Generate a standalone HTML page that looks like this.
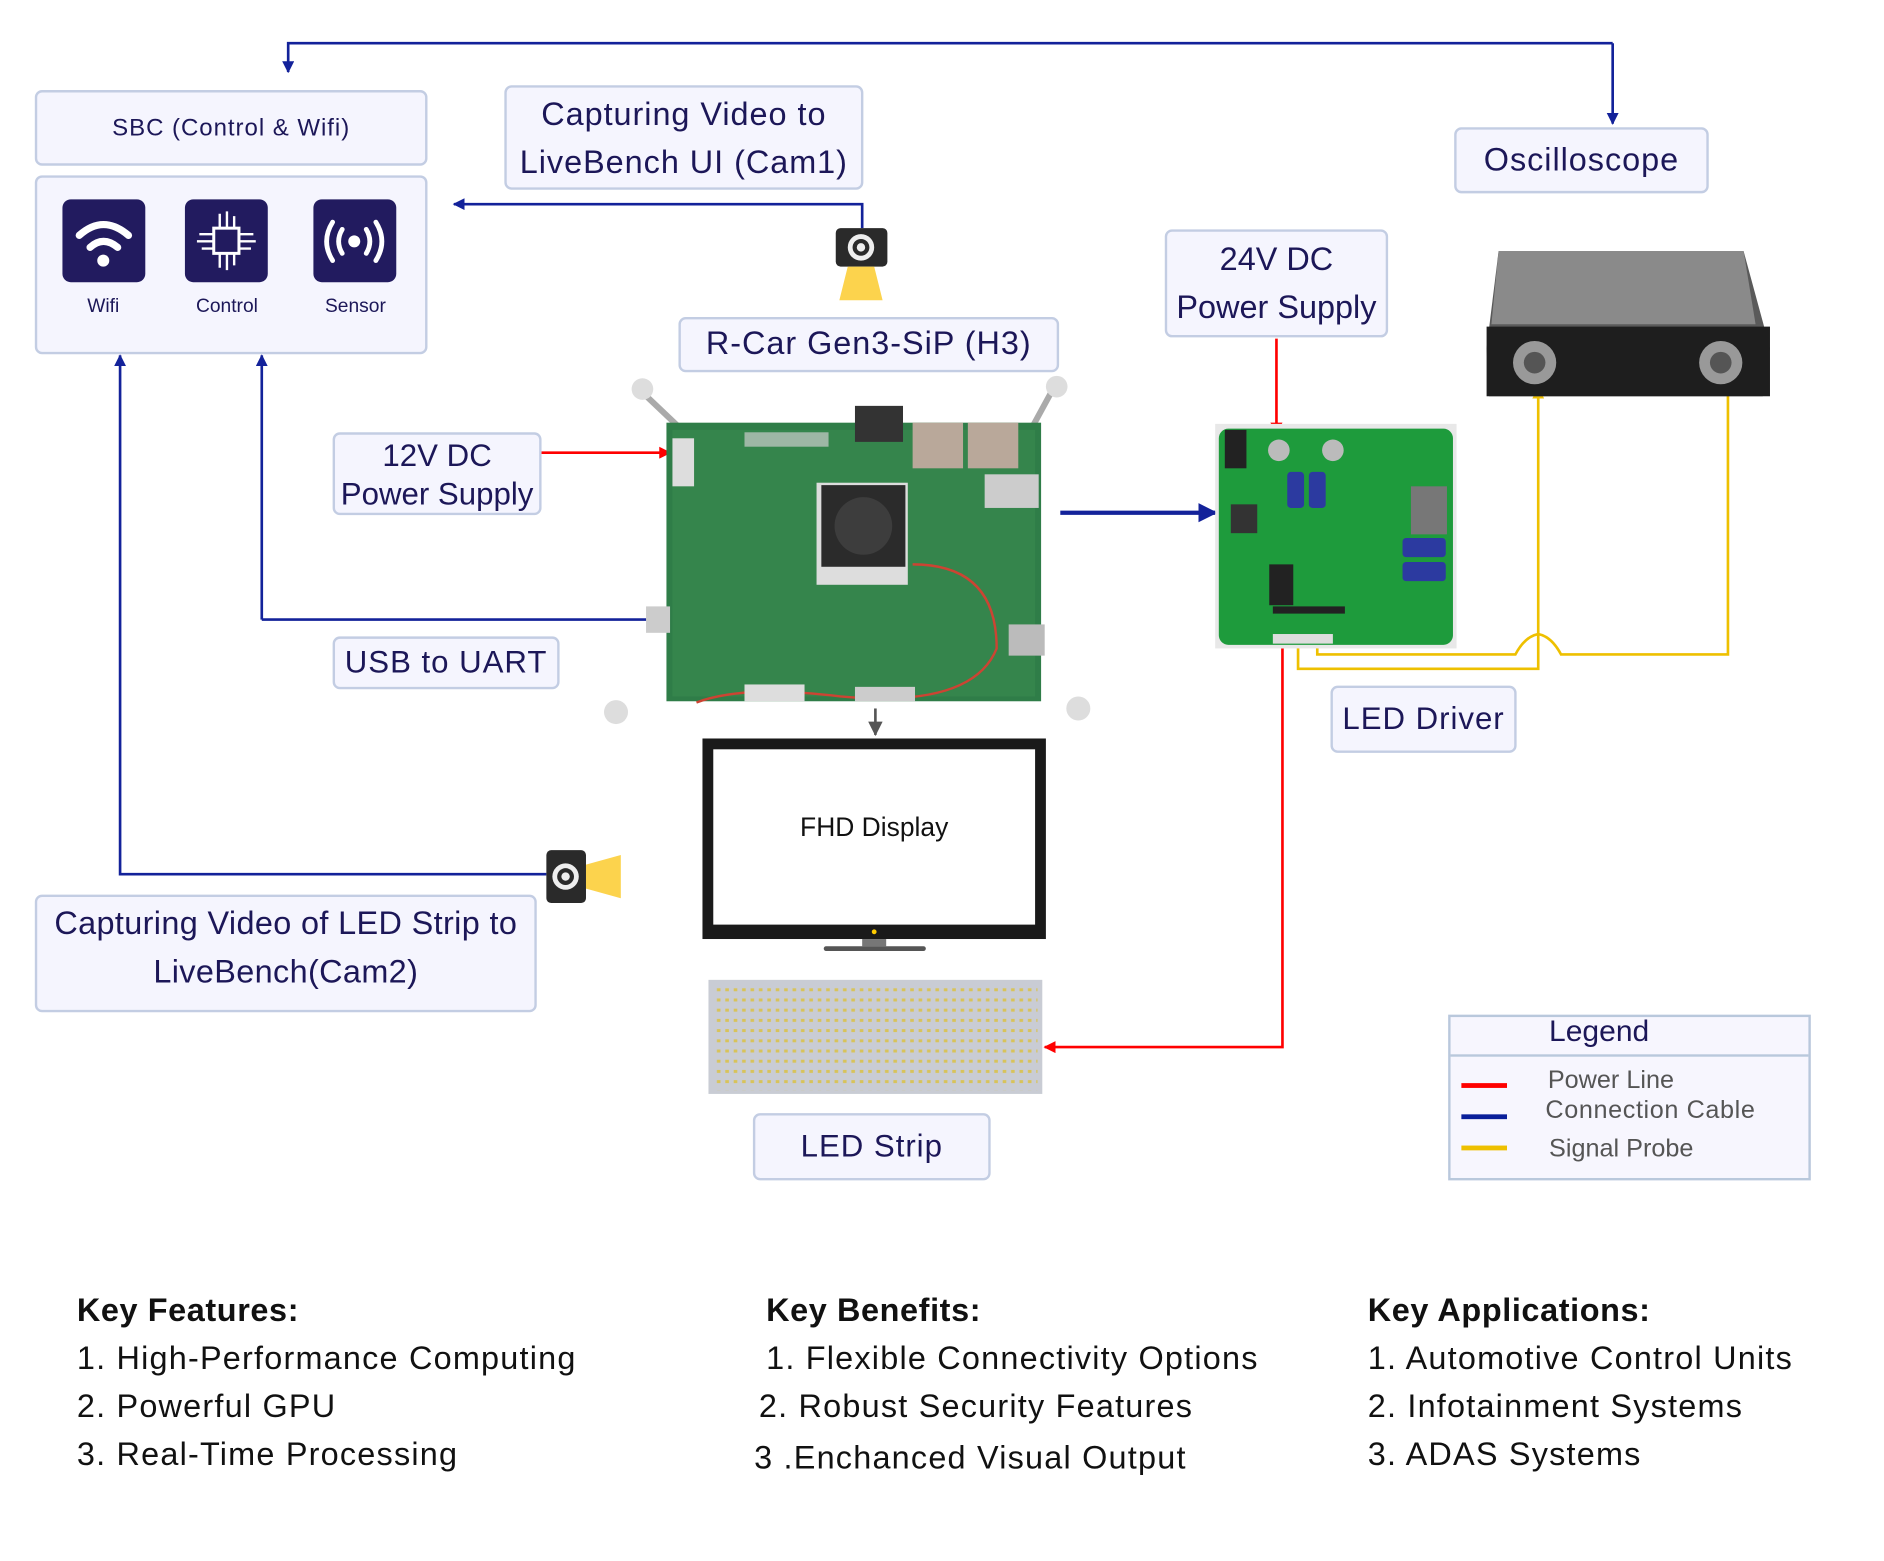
<!DOCTYPE html>
<html><head><meta charset="utf-8"><style>
html,body{margin:0;padding:0;background:#fff;width:1884px;height:1558px;overflow:hidden}
#w{position:absolute;left:0;top:0;width:1570px;height:1300px;transform:scale(1.2008);transform-origin:0 0;font-family:"Liberation Sans",sans-serif}
.b{position:absolute;background:#f5f5fe;border:2px solid #c3cde3;border-radius:6px;box-sizing:border-box;color:#1c1758;text-align:center;display:flex;align-items:center;justify-content:center;line-height:1.3;letter-spacing:0.8px;white-space:nowrap}
.t{position:absolute;white-space:nowrap}
.ic{position:absolute;width:69px;height:69px;background:#221b5f;border-radius:7px}
.lbl{position:absolute;font-size:16px;color:#1c1758;width:100px;text-align:center}
.col{position:absolute;font-size:27px;color:#111;line-height:40px;letter-spacing:1px;white-space:nowrap}
.col b{font-size:27px;letter-spacing:0.5px}
.lg{position:absolute;left:1217px;width:38px;height:4px}
</style></head><body><div id="w">
<svg width="1570" height="1300" style="position:absolute;left:0;top:0">
<defs>
<marker id="ab" markerWidth="10" markerHeight="10" refX="9" refY="5" orient="auto" markerUnits="userSpaceOnUse"><path d="M0,0L10,5L0,10z" fill="#13229a"/></marker>
<marker id="ar" markerWidth="10" markerHeight="10" refX="9" refY="5" orient="auto" markerUnits="userSpaceOnUse"><path d="M0,0L10,5L0,10z" fill="#f00"/></marker>
<marker id="ay" markerWidth="10" markerHeight="10" refX="9" refY="5" orient="auto" markerUnits="userSpaceOnUse"><path d="M0,0L10,5L0,10z" fill="#eec000"/></marker>
<marker id="ab2" markerWidth="16" markerHeight="16" refX="14" refY="8" orient="auto" markerUnits="userSpaceOnUse"><path d="M0,0L16,8L0,16z" fill="#13229a"/></marker>
<marker id="ag" markerWidth="12" markerHeight="12" refX="11" refY="6" orient="auto" markerUnits="userSpaceOnUse"><path d="M0,0L12,6L0,12z" fill="#555"/></marker>
</defs>
<g fill="none" stroke-width="2.2">
<path d="M1343,36 L240,36 L240,60" stroke="#13229a" marker-end="url(#ab)"/>
<path d="M1343,36 L1343,103" stroke="#13229a" marker-end="url(#ab)"/>
<path d="M718,190 L718,170 L378,170" stroke="#13229a" marker-end="url(#ab)"/>
<path d="M218,516 L218,296" stroke="#13229a" marker-end="url(#ab)"/>
<path d="M218,516 L548,516" stroke="#13229a" marker-end="url(#ab)"/>
<path d="M455,728 L100,728 L100,296" stroke="#13229a" marker-end="url(#ab)"/>
<path d="M883,427 L1012,427" stroke="#13229a" stroke-width="3.5" marker-end="url(#ab2)"/>
<path d="M729,590 L729,612" stroke="#555" marker-end="url(#ag)"/>
<path d="M450,377 L558,377" stroke="#f00" marker-end="url(#ar)"/>
<path d="M1063,282 L1063,361" stroke="#f00" marker-end="url(#ar)"/>
<path d="M1068,540 L1068,872 L870,872" stroke="#f00" marker-end="url(#ar)"/>
<path d="M1081,520 L1081,557 L1281,557 L1281,323" stroke="#eec000" marker-end="url(#ay)"/>
<path d="M1097,520 L1097,545 L1262,545 Q1270,530 1281,528 Q1292,530 1300,545 L1439,545 L1439,320" stroke="#eec000" marker-end="url(#ay)"/>
</g>
<rect x="696" y="190" width="43" height="32" rx="4" fill="#2a2a2a"/>
<circle cx="717" cy="206" r="11" fill="#eee"/><circle cx="717" cy="206" r="7" fill="#2a2a2a"/><circle cx="717" cy="206" r="3.5" fill="#eee"/>
<path d="M706,222 L728,222 L735,250 L699,250z" fill="#fcd34d"/>
<rect x="455" y="708" width="33" height="44" rx="4" fill="#2a2a2a"/>
<circle cx="471" cy="730" r="11" fill="#eee"/><circle cx="471" cy="730" r="7" fill="#2a2a2a"/><circle cx="471" cy="730" r="3.5" fill="#eee"/>
<path d="M488,720 L517,712 L517,748 L488,740z" fill="#fcd34d"/>
<line x1="530" y1="322" x2="570" y2="360" stroke="#aaa" stroke-width="5"/>
<line x1="878" y1="322" x2="860" y2="355" stroke="#aaa" stroke-width="5"/>
<circle cx="535" cy="324" r="9" fill="#ddd"/><circle cx="880" cy="322" r="9" fill="#ddd"/>
<circle cx="513" cy="593" r="10" fill="#ddd"/><circle cx="898" cy="590" r="10" fill="#ddd"/>
<rect x="555" y="352" width="312" height="232" fill="#2f7d48"/>
<rect x="560" y="358" width="302" height="222" fill="#3a8a50" opacity=".6"/>
<rect x="712" y="338" width="40" height="30" fill="#333"/>
<rect x="760" y="352" width="42" height="38" fill="#b9a89a"/><rect x="806" y="352" width="42" height="38" fill="#b9a89a"/>
<rect x="820" y="395" width="45" height="28" fill="#ccc"/>
<rect x="680" y="402" width="76" height="85" fill="#ddd"/>
<rect x="684" y="404" width="70" height="68" fill="#2b2b2b"/>
<circle cx="719" cy="438" r="24" fill="#3d3d3d"/>
<rect x="620" y="360" width="70" height="12" fill="#ccc" opacity=".7"/>
<path d="M760,470 Q830,470 830,540 Q810,590 700,580 Q620,570 580,585" fill="none" stroke="#c43" stroke-width="2"/>
<rect x="560" y="365" width="18" height="40" fill="#ddd"/>
<rect x="538" y="505" width="20" height="22" fill="#ccc"/>
<rect x="840" y="520" width="30" height="26" fill="#bbb"/>
<rect x="620" y="570" width="50" height="14" fill="#ddd"/><rect x="712" y="572" width="50" height="12" fill="#ccc"/>
<rect x="1012" y="353" width="201" height="187" fill="#e8e8e8"/>
<rect x="1015" y="357" width="195" height="180" rx="8" fill="#1e9b3c"/>
<rect x="1020" y="358" width="18" height="32" fill="#222"/>
<circle cx="1065" cy="375" r="9" fill="#bbb"/><circle cx="1110" cy="375" r="9" fill="#bbb"/>
<rect x="1072" y="393" width="14" height="30" rx="3" fill="#2c3aa0"/><rect x="1090" y="393" width="14" height="30" rx="3" fill="#2c3aa0"/>
<rect x="1175" y="405" width="30" height="40" fill="#777"/>
<rect x="1168" y="448" width="36" height="16" rx="3" fill="#2c3aa0"/><rect x="1168" y="468" width="36" height="16" rx="3" fill="#2c3aa0"/>
<rect x="1025" y="420" width="22" height="24" fill="#333"/>
<rect x="1057" y="470" width="20" height="34" fill="#222"/>
<rect x="1060" y="505" width="60" height="6" fill="#222"/>
<rect x="1060" y="528" width="50" height="8" fill="#ddd"/>
<path d="M1248,209 L1452,209 L1474,290 L1468,330 L1240,330 L1238,290z" fill="#5a5a5a"/>
<path d="M1248,209 L1452,209 L1462,270 L1242,270z" fill="#8a8a8a"/>
<rect x="1238" y="272" width="236" height="58" fill="#1e1e1e"/>
<circle cx="1278" cy="302" r="18" fill="#999"/><circle cx="1278" cy="302" r="9" fill="#555"/>
<circle cx="1433" cy="302" r="18" fill="#999"/><circle cx="1433" cy="302" r="9" fill="#555"/>
<rect x="585" y="615" width="286" height="167" fill="#1a1a1a"/>
<rect x="594" y="624" width="268" height="146" fill="#fff"/>
<circle cx="728" cy="776" r="2" fill="#fc0"/>
<rect x="718" y="782" width="20" height="6" fill="#777"/>
<rect x="686" y="788" width="85" height="4" rx="2" fill="#555"/>
<rect x="590" y="816" width="278" height="95" fill="#c9ccd4"/>
<pattern id="dots" x="596" y="821" width="7" height="8.5" patternUnits="userSpaceOnUse"><rect x="1" y="2" width="3" height="2.5" fill="#d8c35a"/></pattern>
<rect x="594" y="820" width="270" height="88" fill="url(#dots)"/>
</svg>

<div class="b" style="left:29px;top:75px;width:327px;height:63px;font-size:20px">SBC (Control &amp; Wifi)</div>
<div class="b" style="left:29px;top:146px;width:327px;height:149px"></div>
<div class="ic" style="left:52px;top:166px"><svg width="69" height="69"><path d="M14,30 Q34,12 55,30" stroke="#fff" stroke-width="6" fill="none" stroke-linecap="round"/><path d="M23,40 Q34,30 46,40" stroke="#fff" stroke-width="6" fill="none" stroke-linecap="round"/><circle cx="34" cy="51" r="5" fill="#fff"/></svg></div>
<div class="ic" style="left:154px;top:166px"><svg width="69" height="69"><rect x="24" y="24" width="21" height="21" fill="none" stroke="#fff" stroke-width="2.5"/><g stroke="#fff" stroke-width="2"><path d="M29,24V12M35,24V10M41,24V14M29,45V57M35,45V59M41,45V55M24,29H12M24,35H10M24,41H14M45,29H57M45,35H59M45,41H55"/></g></svg></div>
<div class="ic" style="left:261px;top:166px"><svg width="69" height="69"><circle cx="34" cy="35" r="5" fill="#fff"/><g stroke="#fff" stroke-width="4" fill="none" stroke-linecap="round"><path d="M24,25Q18,35 24,45M44,25Q50,35 44,45M16,19Q6,35 16,51M52,19Q62,35 52,51"/></g></svg></div>
<div class="lbl" style="left:36px;top:247px">Wifi</div>
<div class="lbl" style="left:139px;top:247px">Control</div>
<div class="lbl" style="left:246px;top:247px">Sensor</div>

<div class="b" style="left:420px;top:71px;width:299px;height:87px;font-size:27px;line-height:40px">Capturing Video to<br>LiveBench UI (Cam1)</div>
<div class="b" style="left:565px;top:264px;width:317px;height:46px;font-size:27px">R-Car Gen3-SiP (H3)</div>
<div class="b" style="left:277px;top:360px;width:174px;height:69px;font-size:26px;line-height:32px;letter-spacing:0">12V DC<br>Power Supply</div>
<div class="b" style="left:277px;top:530px;width:189px;height:44px;font-size:26px">USB to UART</div>
<div class="b" style="left:29px;top:745px;width:418px;height:98px;font-size:27px;line-height:40px;align-items:flex-start;padding-top:2px;letter-spacing:0.3px">Capturing Video of LED Strip to<br>LiveBench(Cam2)</div>
<div class="b" style="left:970px;top:191px;width:186px;height:90px;font-size:27px;line-height:40px;letter-spacing:0">24V DC<br>Power Supply</div>
<div class="b" style="left:1211px;top:106px;width:212px;height:55px;font-size:27px">Oscilloscope</div>
<div class="b" style="left:1108px;top:571px;width:155px;height:56px;font-size:26px">LED Driver</div>
<div class="b" style="left:627px;top:927px;width:198px;height:56px;font-size:26px">LED Strip</div>
<div class="t" style="left:594px;top:676px;width:268px;text-align:center;font-size:22px;color:#111">FHD Display</div>

<div style="position:absolute;left:1206px;top:845px;width:302px;height:138px;background:#f7f6fe;border:2px solid #b9c8dc;box-sizing:border-box"></div>
<div style="position:absolute;left:1208px;top:878px;width:298px;height:2px;background:#b9c8dc"></div>
<div class="lg" style="top:902px;background:#f00"></div>
<div class="lg" style="top:928px;background:#0a1f9a"></div>
<div class="lg" style="top:954px;background:#eec000"></div>
<div class="t" style="left:1290px;top:845px;font-size:25px;color:#1c1758">Legend</div>
<div class="t" style="left:1289px;top:888px;font-size:21px;color:#555">Power Line</div>
<div class="t" style="left:1287px;top:913px;font-size:21px;color:#555;letter-spacing:0.5px">Connection Cable</div>
<div class="t" style="left:1290px;top:945px;font-size:21px;color:#555">Signal Probe</div>

<div class="col" style="left:64px;top:1071px"><b>Key Features:</b><br>1. High-Performance Computing<br>2. Powerful GPU<br>3. Real-Time Processing</div>
<div class="col" style="left:632px;top:1071px"><b style="margin-left:6px">Key Benefits:</b><br><span style="margin-left:6px">1. Flexible Connectivity Options</span><br>2. Robust Security Features<br><span style="position:relative;top:3px;margin-left:-4px">3 .Enchanced Visual Output</span></div>
<div class="col" style="left:1139px;top:1071px"><b>Key Applications:</b><br>1. Automotive Control Units<br>2. Infotainment Systems<br>3. ADAS Systems</div>
</div></body></html>
